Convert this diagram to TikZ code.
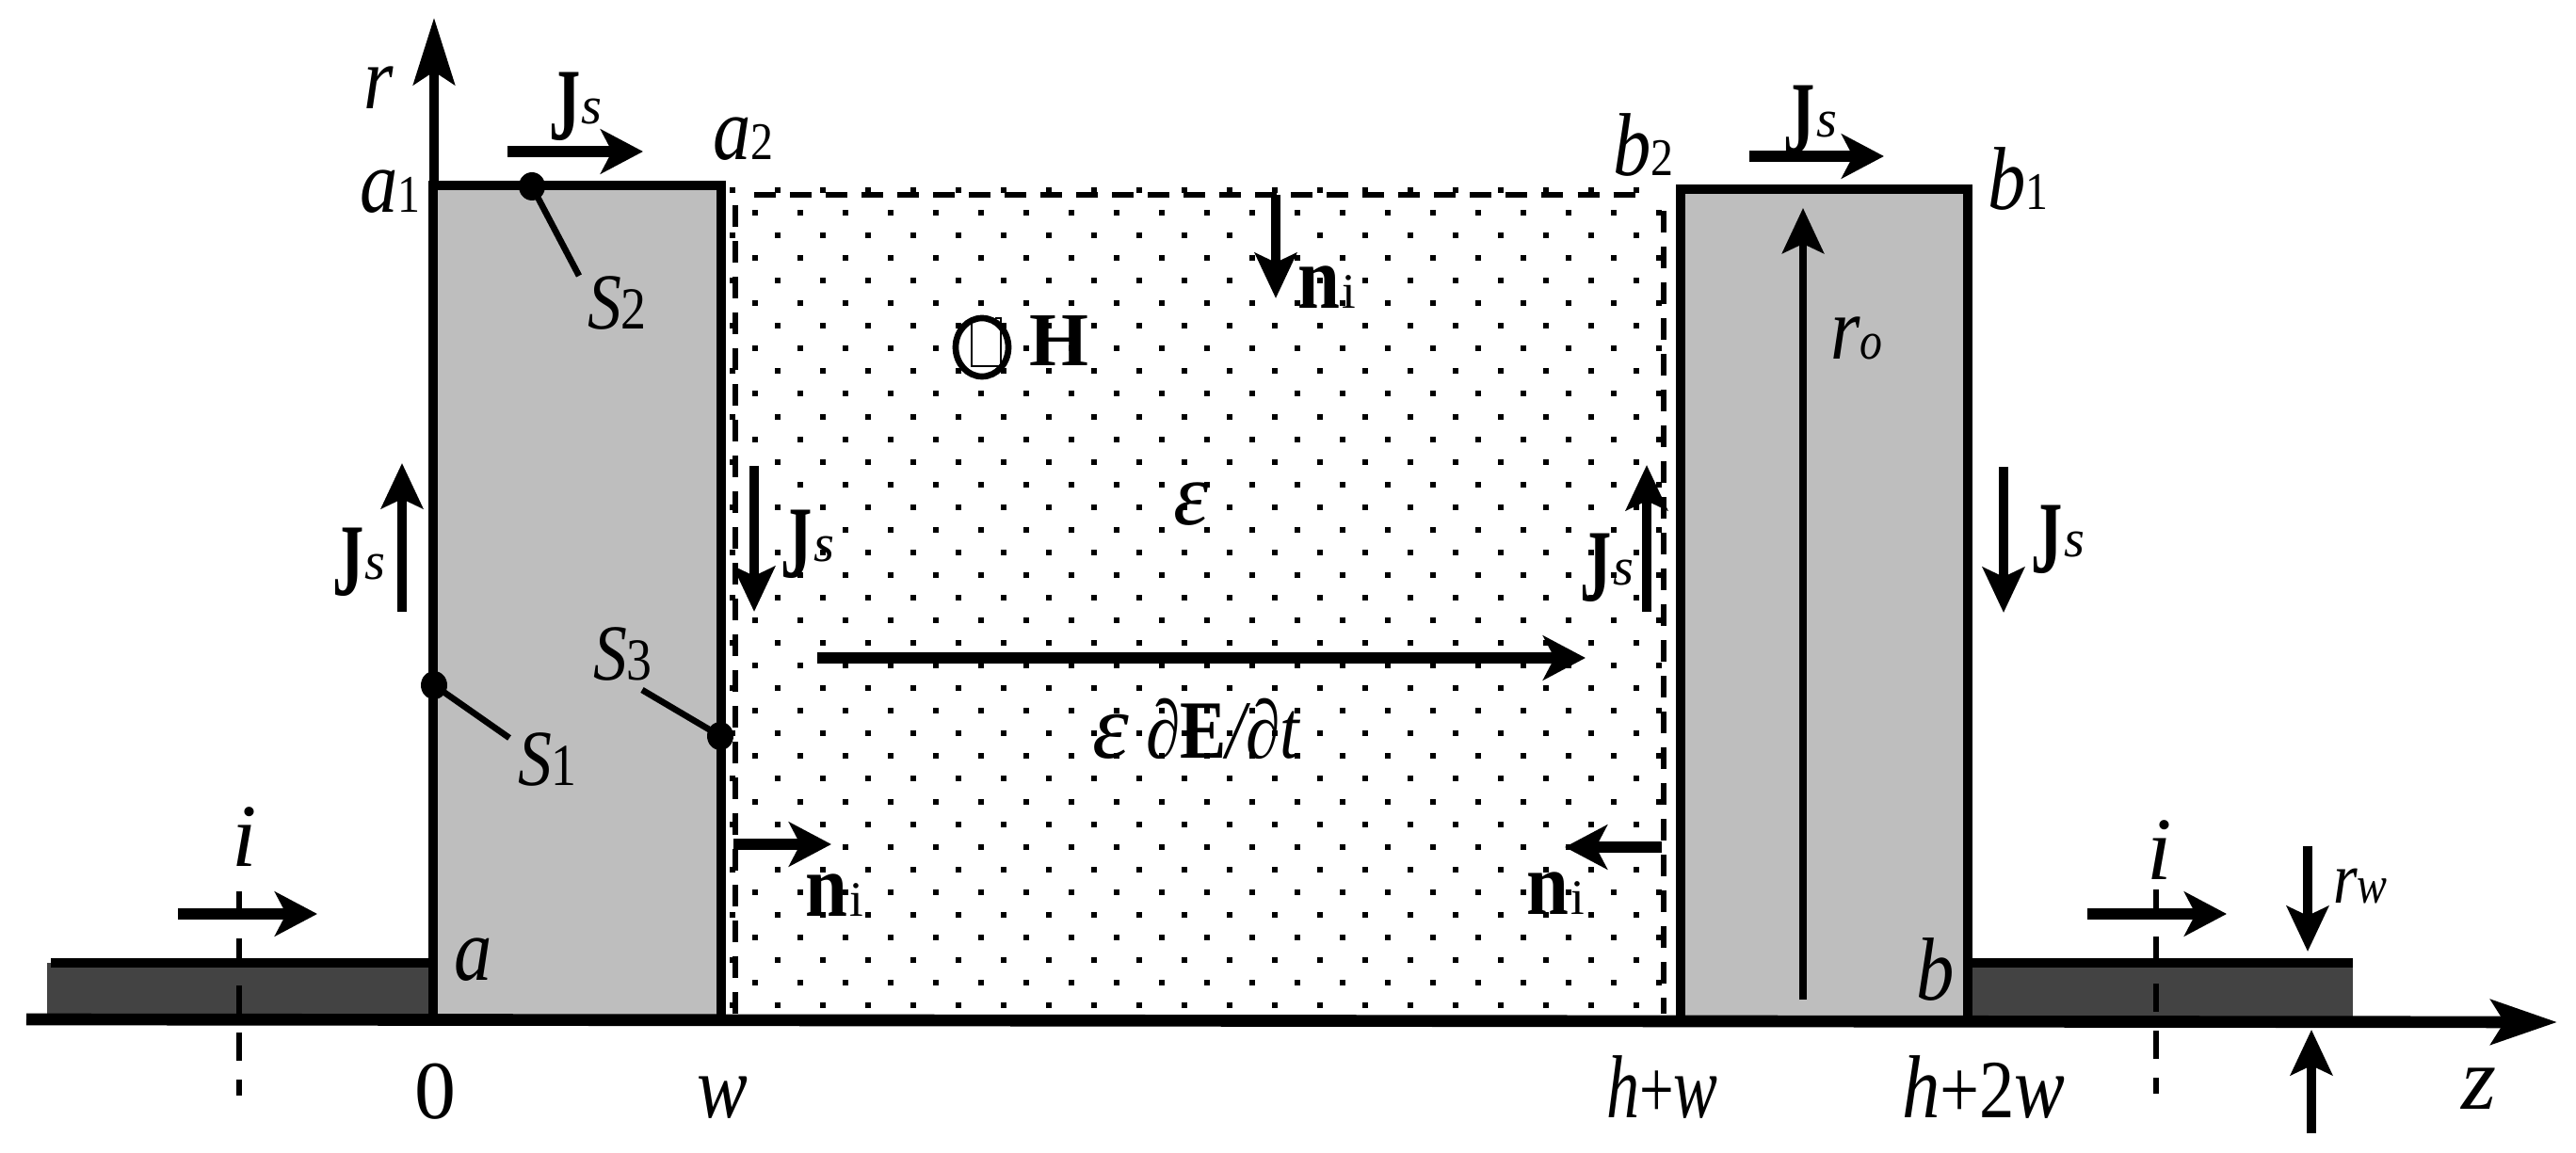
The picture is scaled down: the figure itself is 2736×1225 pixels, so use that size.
\documentclass[tikz,border=0pt]{standalone}
\usepackage{fontspec}
\setmainfont{Liberation Serif}
\usetikzlibrary{arrows.meta}
\definecolor{blockgrey}{HTML}{BEBEBE}
\definecolor{wiredark}{HTML}{434343}
\newcommand{\fsz}[1]{\fontsize{#1pt}{#1pt}\selectfont}
\newcommand{\nar}[1]{\scalebox{0.85}[1]{#1}}
\newcommand{\mainit}[1]{{\fsz{27}\itshape #1}}
\newcommand{\subit}[1]{{\fsz{16}\itshape #1}}
\newcommand{\subrm}[1]{{\fsz{16}#1}}
\newcommand{\Jsym}{\raisebox{-0.16cm}{\scalebox{0.7}[1.15]{\fsz{27}\bfseries J}}\kern0.5pt{\fsz{16}\itshape s}}
\newcommand{\nsym}{\scalebox{0.85}[1]{\fsz{27}\bfseries n}\kern0.6pt{\fsz{15}i}}
\tikzset{
  x=0.01cm,y=-0.01cm,
  lab/.style={anchor=base west,inner sep=0pt,outer sep=0pt,text=black},
  bigarrow/.style={line width=3.3pt,-{Stealth[length=0.45cm,width=0.47cm,inset=0.12cm]}},
  thinarrow/.style={line width=2.8pt,-{Stealth[length=0.48cm,width=0.44cm,inset=0.1cm]}},
  outline/.style={line width=2.7pt,line join=miter},
  topline/.style={line width=2.9pt},
  leader/.style={line width=1.9pt},
  dashv/.style={line width=1.95pt,dash pattern=on 0.23cm off 0.15cm},
  dashh/.style={line width=1.95pt,dash pattern=on 0.23cm off 0.15cm},
  centre/.style={line width=1.8pt,dash pattern=on 0.30cm off 0.20cm},
}
\begin{document}
\begin{tikzpicture}
\useasboundingbox (0,0) rectangle (2736,1225);
\fill[white] (0,0) rectangle (2736,1225);
% dots
\foreach \k in {0,2,...,34}{\foreach \j in {0,...,20}{\fill ({802+48*\j-3},{226+24.06*\k-3}) rectangle +(6,6);}}
\foreach \k in {-1,1,...,35}{\foreach \j in {0,...,20}{\fill ({778+48*\j-3},{226+24.06*\k-3}) rectangle +(6,6);}}
% dashed surface
\draw[dashh] (801,207) -- (1744,207);
\draw[dashv] (781,218) -- (781,1077);
\draw[dashv] (1767,224) -- (1767,1077);
% blocks and wires
\fill[blockgrey] (460,197) rectangle (766,1080);
\fill[blockgrey] (1785,201) rectangle (2090,1080);
\fill[wiredark] (50,1023) rectangle (460,1080);
\fill[wiredark] (2090,1023) rectangle (2499,1080);
\draw[outline] (460,1080) -- (460,197);
\draw[outline] (766,197) -- (766,1080);
\draw[outline] (1785,1080) -- (1785,201);
\draw[outline] (2090,201) -- (2090,1080);
\draw[topline] (455,197) -- (771,197);
\draw[topline] (1780,201) -- (2095,201);
\draw[topline] (54,1023) -- (460,1023);
\draw[topline] (2090,1023) -- (2499,1023);
% centre lines of the wire
\draw[centre] (254,947) -- (254,1164);
\draw[centre] (2290,945) -- (2290,1162);
% axes
\coordinate (zstart) at (28,1083);
\coordinate (ztip) at (2716,1086);
\coordinate (rstart) at (461,197);
\coordinate (rtip) at (461,19);
\draw[line width=3.6pt,-{Stealth[length=0.7cm,width=0.47cm,inset=0.14cm]}] (zstart) -- (ztip);
\draw[line width=2.6pt,-{Stealth[length=0.71cm,width=0.44cm,inset=0.14cm]}] (rstart) -- (rtip);
% current arrows
\draw[bigarrow] (189,971) -- (337,971);
\draw[bigarrow] (2217,971) -- (2365,971);
\draw[bigarrow] (539,161) -- (683,161);
\draw[bigarrow] (1858,166) -- (2001,166);
\draw[bigarrow] (868,699) -- (1684,699);
\draw[bigarrow] (779,897) -- (883,897);
\draw[bigarrow] (1765,900) -- (1662,900);
\draw[thinarrow] (427,650) -- (427,492);
\draw[thinarrow] (801,495) -- (801,650);
\draw[thinarrow] (1749,650) -- (1749,494);
\draw[thinarrow] (2128,496) -- (2128,651);
\draw[thinarrow] (1355,207) -- (1355,317);
\draw[thinarrow,line width=2.3pt] (1915,1062) -- (1915,221);
\draw[thinarrow] (2451,899) -- (2451,1011);
\draw[thinarrow] (2455,1204) -- (2455,1094);
% surface markers
\fill (565,198) circle[x radius=14,y radius=15];
\fill (461,728) circle[x radius=14,y radius=15];
\fill (765,782) circle[x radius=14,y radius=15];
\coordinate (sb) at (615,293);
\coordinate (sa) at (541,784);
\coordinate (sc) at (682,733);
\draw[leader] (565,198) -- (sb);
\draw[leader] (461,728) -- (sa);
\draw[leader] (765,782) -- (sc);
% H symbol
\fill[white] (1043,369) circle[x radius=26,y radius=29];
\draw[line width=0.45pt] (1032,340) -- (1032,389) -- (1063,389) -- (1063,338) -- (1057,338);
\draw[line width=1.9pt] (1043,369) circle[x radius=28,y radius=31];
% labels
\node[lab] (lr) at (386,116) {\nar{\mainit{r}}};
\node[lab] (la1) at (382,226) {\nar{\mainit{a}\subrm{1}}};
\node[lab] (la2) at (757,170) {\nar{\mainit{a}\subrm{2}}};
\node[lab] (lb1) at (2111,223) {\nar{\mainit{b}\subrm{1}}};
\node[lab] (lb2) at (1713,187) {\nar{\mainit{b}\subrm{2}}};
\node[lab] (lS2) at (624,350) {\nar{{\fsz{24}\itshape S}{\fsz{18}2}}};
\node[lab] (lS1) at (550,834) {\nar{{\fsz{24}\itshape S}{\fsz{18}1}}};
\node[lab] (lS3) at (630,722) {\nar{{\fsz{24}\itshape S}{\fsz{18}3}}};
\node[lab] (lJa) at (583,132) {\Jsym};
\node[lab] (lJb) at (1894,146) {\Jsym};
\node[lab] (lJc) at (353,616) {\Jsym};
\node[lab] (lJd) at (829,597) {\Jsym};
\node[lab] (lJe) at (1678,622) {\Jsym};
\node[lab] (lJf) at (2157,592) {\Jsym};
\node[lab] (ln1) at (1378,328) {\nsym};
\node[lab] (ln2) at (855,973) {\nsym};
\node[lab] (ln3) at (1621,971) {\nsym};
\node[lab] (lH) at (1093,389) {{\fsz{23}\bfseries H}};
\node[lab] (leps) at (1246,558) {\mainit{ε}};
\node[lab] (ldeps) at (1160,806) {{\fsz{28}\itshape ε}};
\node[lab] (lde) at (1217,806) {\scalebox{0.84}[1]{{\fsz{25}\itshape ∂{\bfseries\upshape E}/∂t}}};
\node[lab] (lro) at (1944,382) {\nar{\mainit{r}\subit{o}}};
\node[lab] (lrw) at (2478,959) {\nar{{\fsz{22}\itshape r}\subit{w}}};
\node[lab] (la) at (482,1041) {\nar{\mainit{a}}};
\node[lab] (lb) at (2035,1062) {\nar{\mainit{b}}};
\node[lab] (lil) at (246,920) {\mainit{i}};
\node[lab] (lir) at (2280,934) {\mainit{i}};
\node[lab] (l0) at (440,1188) {{\fsz{25}0}};
\node[lab] (lw) at (740,1187) {\nar{\mainit{w}}};
\node[lab] (lhw) at (1706,1187) {\scalebox{0.74}[1]{\mainit{h}{\fsz{25}+}\mainit{w}}};
\node[lab] (lh2w) at (2020,1187) {\scalebox{0.85}[1]{\mainit{h}{\fsz{25}+2}\mainit{w}}};
\node[lab] (lz) at (2614,1178) {\mainit{z}};
\end{tikzpicture}
\end{document}
